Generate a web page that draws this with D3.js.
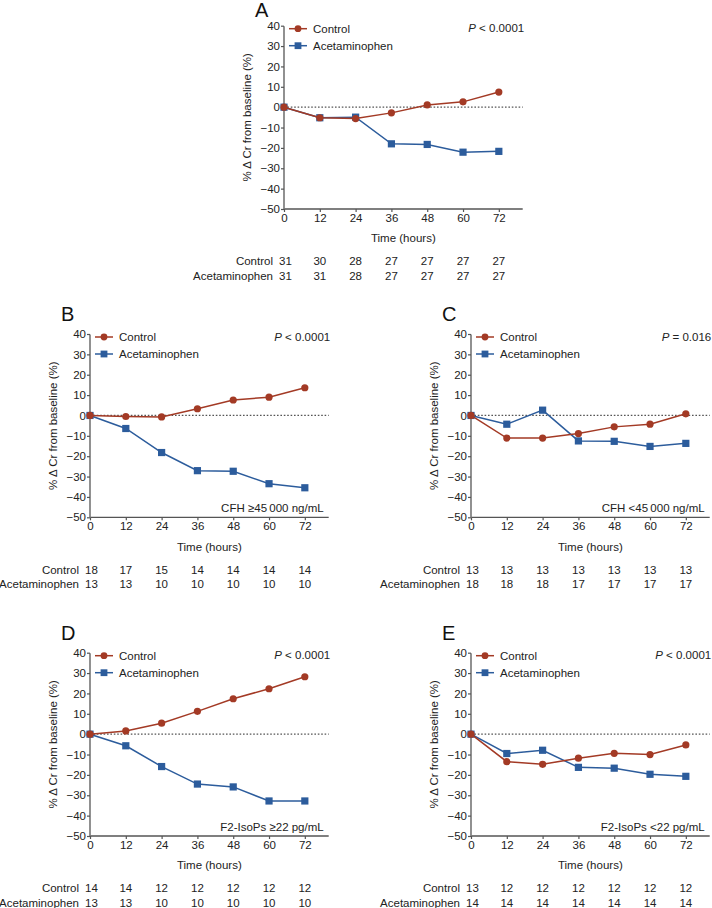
<!DOCTYPE html>
<html>
<head>
<meta charset="utf-8">
<script src="https://cdn.jsdelivr.net/npm/d3@7"></script>
<style>
  html, body { margin: 0; padding: 0; background: #fff; }
  svg { display: block; font-family: "Liberation Sans", Arial, Helvetica, sans-serif; }
</style>
</head>
<body>
<svg id="chart" width="712" height="908"></svg>
<script>
// ---------- data ----------
const hours = [0, 12, 24, 36, 48, 60, 72];
const yTicks = [40, 30, 20, 10, 0, -10, -20, -30, -40, -50];
const seriesNames = ["Control", "Acetaminophen"];
const panelLetters = ["A", "B", "C", "D", "E"];

const controlA = [0, -5.2, -5.6, -2.8, 1.1, 2.6, 7.4];
const acetA    = [0, -5.2, -4.9, -18.0, -18.3, -22.1, -21.7];
const controlB = [0, -0.5, -0.7, 3.3, 7.6, 9.0, 13.6];
const acetB    = [0, -6.4, -18.2, -27.1, -27.4, -33.5, -35.5];
const controlC = [0, -11.1, -11.1, -8.9, -5.6, -4.3, 0.8];
const acetC    = [0, -4.3, 2.6, -12.5, -12.7, -15.2, -13.7];
const controlD = [0, 1.6, 5.4, 11.2, 17.4, 22.3, 28.2];
const acetD    = [0, -5.7, -15.9, -24.5, -25.9, -32.8, -32.8];
const controlE = [0, -13.5, -14.8, -11.8, -9.4, -10.0, -5.3];
const acetE    = [0, -9.5, -7.9, -16.3, -16.7, -19.7, -20.7];

const nControlA = [31, 30, 28, 27, 27, 27, 27];
const nAcetA    = [31, 31, 28, 27, 27, 27, 27];
const nControlB = [18, 17, 15, 14, 14, 14, 14];
const nAcetB    = [13, 13, 10, 10, 10, 10, 10];
const nControlC = [13, 13, 13, 13, 13, 13, 13];
const nAcetC    = [18, 18, 18, 17, 17, 17, 17];
const nControlD = [14, 14, 12, 12, 12, 12, 12];
const nAcetD    = [13, 13, 10, 10, 10, 10, 10];
const nControlE = [13, 12, 12, 12, 12, 12, 12];
const nAcetE    = [14, 14, 14, 14, 14, 14, 14];

const pOps    = ["< 0.0001", "< 0.0001", "= 0.016", "< 0.0001", "< 0.0001"];
const subsets = ["", "CFH \u226545\u2009000 ng/mL", "CFH <45\u2009000 ng/mL", "F2-IsoPs \u226522 pg/mL", "F2-IsoPs <22 pg/mL"];

// ---------- layout ----------
const layout = [
  { x: 284, y: 25.7 },
  { x: 90,  y: 334 },
  { x: 471, y: 334 },
  { x: 90,  y: 652.7 },
  { x: 471, y: 652.7 }
];
const W = 238.7, H = 183.3;
const RED = "#a33a25", BLUE = "#2c5c9c", AXIS = "#555", TXT = "#222";

const controls = [controlA, controlB, controlC, controlD, controlE];
const acets = [acetA, acetB, acetC, acetD, acetE];
const nControls = [nControlA, nControlB, nControlC, nControlD, nControlE];
const nAcets = [nAcetA, nAcetB, nAcetC, nAcetD, nAcetE];

const svg = d3.select("#chart");

panelLetters.forEach((letter, i) => {
  const L = layout[i];
  const g = svg.append("g").attr("transform", `translate(${L.x},${L.y})`);
  const x = d3.scaleLinear().domain([0, 80]).range([0, W]);
  const y = d3.scaleLinear().domain([-50, 40]).range([H, 0]);

  // panel letter (kept inside the page at the top)
  const letterBase = Math.max(L.y - 13, 16.5) - L.y;
  g.append("text").attr("x", -29).attr("y", letterBase).attr("font-size", 20)
    .attr("fill", "#111").text(letter);

  // zero dotted line
  g.append("line").attr("x1", x(0)).attr("x2", x(80)).attr("y1", y(0)).attr("y2", y(0))
    .attr("stroke", AXIS).attr("stroke-width", 1.2).attr("stroke-dasharray", "1.6,1.8");

  // axes
  const ya = g.append("g").call(d3.axisLeft(y).tickValues(yTicks).tickSize(3).tickPadding(1).tickFormat(d3.format("d")));
  const xa = g.append("g").attr("transform", `translate(0,${H})`)
    .call(d3.axisBottom(x).tickValues(hours).tickSize(3).tickPadding(2).tickFormat(d3.format("d")));
  [ya, xa].forEach(a => {
    a.select(".domain").attr("stroke", AXIS).attr("stroke-width", 1.3);
    a.selectAll(".tick line").attr("stroke", AXIS).attr("stroke-width", 1.2);
    a.selectAll(".tick text").attr("font-size", 11.5).attr("fill", TXT)
      .attr("font-family", "Liberation Sans, Arial, sans-serif");
  });
  xa.select(".domain").attr("d", `M0.5,0H${W}`);
  ya.select(".domain").attr("d", `M0,0.5V${H}`);

  // axis titles
  g.append("text").attr("transform", `translate(-33,${H / 2}) rotate(-90)`)
    .attr("text-anchor", "middle").attr("font-size", 11.5).attr("fill", TXT)
    .text("% \u0394 Cr from baseline (%)");
  g.append("text").attr("x", W / 2).attr("y", H + 33.5)
    .attr("text-anchor", "middle").attr("font-size", 11.5).attr("fill", TXT)
    .text("Time (hours)");

  // lines and markers
  const line = d3.line().x((d, k) => x(hours[k])).y(d => y(d));
  const drawSeries = (vals, color, shape) => {
    g.append("path").datum(vals).attr("d", line).attr("fill", "none")
      .attr("stroke", color).attr("stroke-width", 1.5);
    if (shape === "circle") {
      g.selectAll(null).data(vals).enter().append("circle")
        .attr("cx", (d, k) => x(hours[k])).attr("cy", d => y(d)).attr("r", 3.6)
        .attr("fill", color);
    } else {
      g.selectAll(null).data(vals).enter().append("rect")
        .attr("x", (d, k) => x(hours[k]) - 3.6).attr("y", d => y(d) - 3.6)
        .attr("width", 7.2).attr("height", 7.2).attr("fill", color);
    }
  };
  drawSeries(acets[i], BLUE, "square");
  drawSeries(controls[i], RED, "circle");

  // legend
  const lg = [[RED, "circle"], [BLUE, "square"]];
  seriesNames.forEach((name, k) => {
    const ly = 3 + k * 17;
    g.append("line").attr("x1", 5).attr("x2", 23).attr("y1", ly).attr("y2", ly)
      .attr("stroke", lg[k][0]).attr("stroke-width", 1.5);
    if (lg[k][1] === "circle") {
      g.append("circle").attr("cx", 14).attr("cy", ly).attr("r", 3.4).attr("fill", lg[k][0]);
    } else {
      g.append("rect").attr("x", 10.6).attr("y", ly - 3.4).attr("width", 6.8).attr("height", 6.8).attr("fill", lg[k][0]);
    }
    g.append("text").attr("x", 29).attr("y", ly + 4.2).attr("font-size", 11.5)
      .attr("fill", TXT).text(name);
  });

  // P value
  const pt = g.append("text").attr("x", W + 1.5).attr("y", 6.5).attr("text-anchor", "end")
    .attr("font-size", 11.5).attr("fill", TXT);
  pt.append("tspan").attr("font-style", "italic").text("P");
  pt.append("tspan").text(" " + pOps[i]);

  // subset annotation
  if (subsets[i]) {
    g.append("text").attr("x", W - 5).attr("y", H - 5).attr("text-anchor", "end")
      .attr("font-size", 11.5).attr("fill", TXT).text(subsets[i]);
  }

  // number-at-risk table
  const rows = [nControls[i], nAcets[i]];
  seriesNames.forEach((name, k) => {
    const ry = H + 56.2 + k * 14.5;
    g.append("text").attr("x", -11).attr("y", ry).attr("text-anchor", "end")
      .attr("font-size", 11.5).attr("fill", TXT).text(name);
    g.selectAll(null).data(rows[k]).enter().append("text")
      .attr("x", (d, j) => x(hours[j]) + (j === 0 ? 1.5 : 0)).attr("y", ry)
      .attr("text-anchor", "middle").attr("font-size", 11.5).attr("fill", TXT)
      .text(d => d);
  });
});
</script>
</body>
</html>
